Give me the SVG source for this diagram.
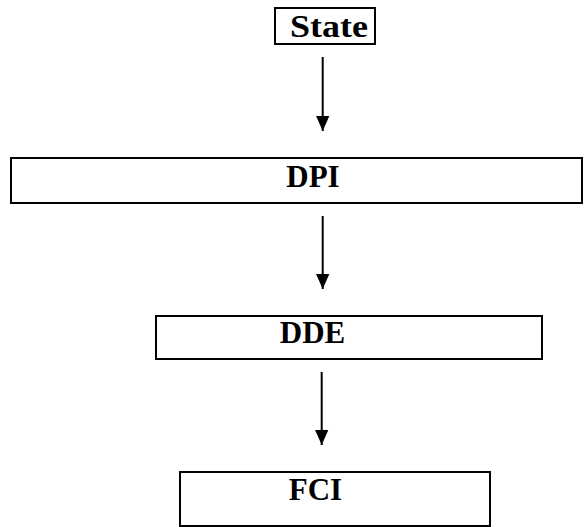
<svg xmlns="http://www.w3.org/2000/svg" width="584" height="527" viewBox="0 0 584 527">
<defs>
<style>
.box{fill:#fff;stroke:#000;stroke-width:2}
.lbl{font-family:"Liberation Serif","Times New Roman",serif;font-weight:bold;font-size:31px;fill:#000;text-anchor:middle}
.conn{stroke:#000;stroke-width:2;fill:none}
</style>
<marker id="ah" markerUnits="userSpaceOnUse" markerWidth="15" markerHeight="17" refX="17" refY="7.5" orient="auto" viewBox="0 0 17 15">
<path d="M0,0 L17,7.5 L0,15 z" fill="#000"/>
</marker>
</defs>
<rect width="584" height="527" fill="#fff"/>
<g id="state">
<rect class="box" x="275" y="8" width="100" height="36"/>
<text class="lbl" x="329" y="37" font-size="30" textLength="78" lengthAdjust="spacingAndGlyphs">State</text>
</g>
<g id="dpi">
<rect class="box" x="11" y="158" width="571" height="45"/>
<text class="lbl" x="313" y="187">DPI</text>
</g>
<g id="dde">
<rect class="box" x="156" y="316" width="386" height="43"/>
<text class="lbl" x="312.5" y="343">DDE</text>
</g>
<g id="fci">
<rect class="box" x="180" y="472" width="310" height="54"/>
<text class="lbl" x="315.5" y="500">FCI</text>
</g>
<g id="connectors">
<line class="conn" x1="322.7" y1="57" x2="322.7" y2="131" marker-end="url(#ah)"/>
<line class="conn" x1="322.7" y1="216" x2="322.7" y2="289" marker-end="url(#ah)"/>
<line class="conn" x1="321.7" y1="372" x2="321.7" y2="445" marker-end="url(#ah)"/>
</g>
</svg>
